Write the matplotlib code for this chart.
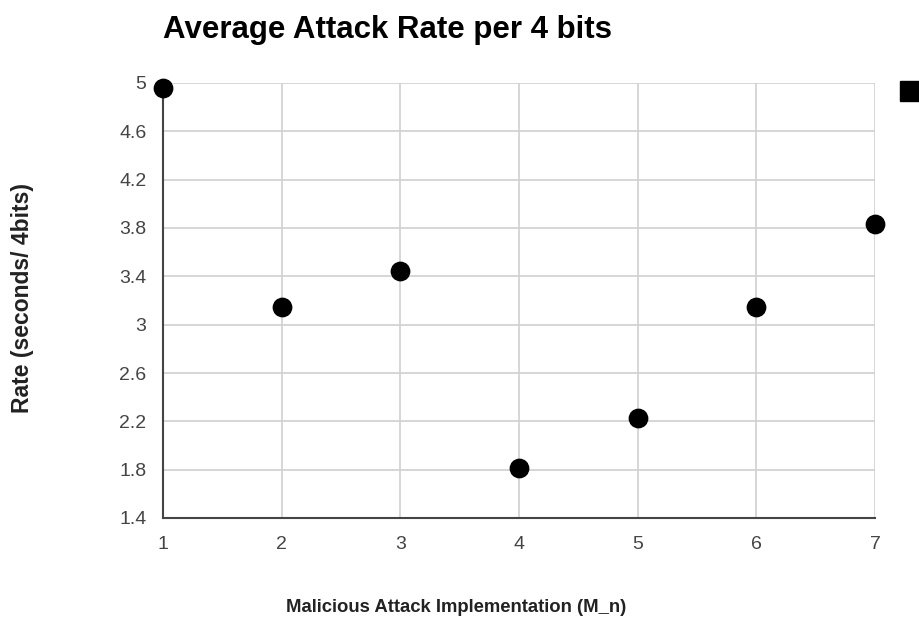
import matplotlib

matplotlib.use("Agg")
import matplotlib.pyplot as plt
from matplotlib.lines import Line2D

plt.rcParams["font.family"] = ["Liberation Sans", "DejaVu Sans"]

implementations = [1, 2, 3, 4, 5, 6, 7]
rates = [4.96, 3.15, 3.44, 1.81, 2.23, 3.15, 3.83]
y_ticks = [1.4, 1.8, 2.2, 2.6, 3.0, 3.4, 3.8, 4.2, 4.6, 5.0]
y_tick_labels = ["1.4", "1.8", "2.2", "2.6", "3", "3.4", "3.8", "4.2", "4.6", "5"]

fig = plt.figure(figsize=(9.19, 6.25), dpi=100)
ax = fig.add_axes([163 / 919, 107 / 625, 712 / 919, 435 / 625])

ax.scatter(implementations, rates, s=175, color="black", zorder=5, clip_on=False)

ax.set_xlim(1, 7)
ax.set_ylim(1.4, 5.0)
ax.set_xticks(implementations)
ax.set_yticks(y_ticks)
ax.set_yticklabels(y_tick_labels)
ax.tick_params(length=0, labelsize=14, colors="#444444", pad=12)
ax.tick_params(axis="x", pad=13)
ax.grid(color="#d0d0d0", linewidth=1.2)
ax.set_axisbelow(True)

for side in ("top", "right"):
    ax.spines[side].set_visible(False)
for side in ("left", "bottom"):
    ax.spines[side].set_color("#444444")
    ax.spines[side].set_linewidth(1.5)

fig.text(163 / 919, 1 - 30 / 625, "Average Attack Rate per 4 bits",
         fontsize=22.5, fontweight="bold", ha="left", va="center")
fig.text(23 / 919, 1 - 298 / 625, "Rate (seconds/ 4bits)",
         fontsize=16.5, fontweight="bold", rotation=90, ha="center", va="center",
         color="#222222")
fig.text(456 / 919, 1 - 607 / 625, "Malicious Attack Implementation (M_n)",
         fontsize=13.3, fontweight="bold", ha="center", va="center", color="#222222")

handle = Line2D([], [], marker="s", color="black", linestyle="none", markersize=15)
fig.legend([handle], [""], loc="upper left", bbox_to_anchor=(897 / 919, 1 - 85 / 625),
           frameon=False, fontsize=12, handlelength=1.6, handletextpad=0,
           borderpad=0, borderaxespad=0)

fig.savefig("out.png", dpi=100)
